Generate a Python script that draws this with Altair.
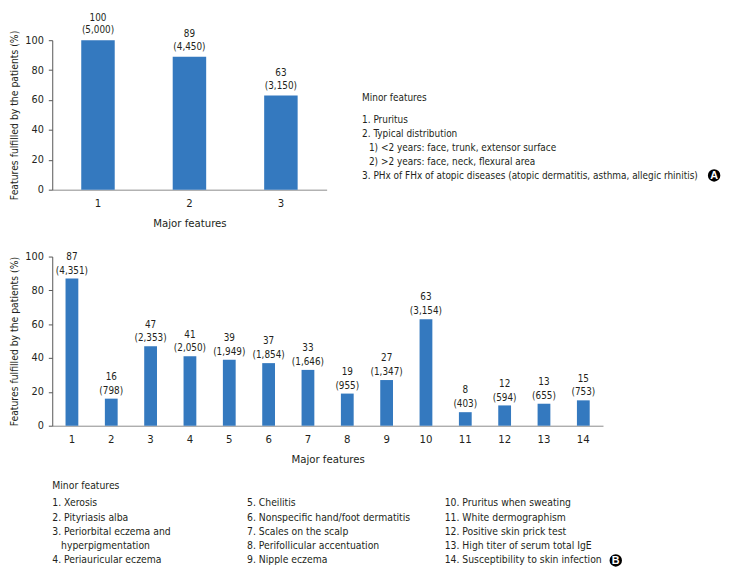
import altair as alt
import pandas as pd

# ---------------- data ----------------
major_ids = ["1", "2", "3"]
major_pct = [100, 89, 63]
major_n = ["5,000", "4,450", "3,150"]

minor_ids = [str(i) for i in range(1, 15)]
minor_pct = [87, 16, 47, 41, 39, 37, 33, 19, 27, 63, 8, 12, 13, 15]
minor_n = ["4,351", "798", "2,353", "2,050", "1,949", "1,854", "1,646",
           "955", "1,347", "3,154", "403", "594", "655", "753"]

panel_a_title = "Minor features"
panel_a_items = ["1. Pruritus", "2. Typical distribution"]
panel_a_sub = ["1) <2 years: face, trunk, extensor surface",
               "2) >2 years: face, neck, flexural area"]
panel_a_last = "3. PHx of FHx of atopic diseases (atopic dermatitis, asthma, allegic rhinitis)"

panel_b_title = "Minor features"
panel_b_col1 = ["1. Xerosis", "2. Pityriasis alba", "3. Periorbital eczema and",
                "hyperpigmentation", "4. Periauricular eczema"]
panel_b_col2 = ["5. Cheilitis", "6. Nonspecific hand/foot dermatitis",
                "7. Scales on the scalp", "8. Perifollicular accentuation",
                "9. Nipple eczema"]
panel_b_col3 = ["10. Pruritus when sweating", "11.  White dermographism",
                "12. Positive skin prick test", "13. High titer of serum total IgE",
                "14. Susceptibility to skin infection"]

# ---------------- style ----------------
FONT = "Liberation Sans Narrow, DejaVu Sans Condensed, sans-serif"
BLUE = "#3479BF"
INK = "#231F20"
YTITLE = "Features fulfilled by the patients (%)"


def bar_panel(ids, pct, counts, w, h, pad_inner, dy1, dy2):
    df = pd.DataFrame({
        "id": ids,
        "pct": pct,
        "lab1": [str(p) for p in pct],
        "lab2": ["(" + c + ")" for c in counts],
    })
    base = alt.Chart(df).encode(
        x=alt.X("id:N", sort=ids,
                scale=alt.Scale(paddingInner=pad_inner, paddingOuter=pad_inner / 2),
                axis=alt.Axis(title="Major features", labelAngle=0, ticks=False,
                              domainColor="#8a8a8a", labelPadding=8, titlePadding=9,
                              labelFontSize=11.5, titleFontSize=11.5,
                              labelColor=INK, titleColor=INK, titleFontWeight="normal")),
        y=alt.Y("pct:Q", scale=alt.Scale(domain=[0, 100], nice=False),
                axis=alt.Axis(title=YTITLE, values=[0, 20, 40, 60, 80, 100], grid=False,
                              domainColor="#555555", tickColor="#555555", tickSize=4,
                              labelPadding=5, titlePadding=5, labelFontSize=11,
                              titleFontSize=10.5, labelColor=INK, titleColor=INK,
                              titleFontWeight="normal")),
    )
    bars = base.mark_bar(color=BLUE)
    t1 = base.mark_text(dy=dy1, fontSize=10, color=INK, baseline="middle").encode(text="lab1:N")
    t2 = base.mark_text(dy=dy2, fontSize=10, color=INK, baseline="middle").encode(text="lab2:N")
    return alt.layer(bars, t1, t2).properties(width=w, height=h)


def text_block(texts, xs, ys, size):
    df = pd.DataFrame({"text": texts, "px": xs, "py": ys})
    return alt.Chart(df).mark_text(align="left", baseline="middle", fontSize=size,
                                   color=INK).encode(
        x=alt.X("px:Q", scale=None, axis=None),
        y=alt.Y("py:Q", scale=None, axis=None),
        text="text:N",
    )


def badge(letter, x, y):
    df = pd.DataFrame({"t": [letter]})
    c = alt.Chart(df).mark_circle(color="black", opacity=1, size=160).encode(
        x=alt.value(x), y=alt.value(y))
    t = alt.Chart(df).mark_text(color="white", fontSize=11, fontWeight="bold",
                                baseline="middle", align="center",
                                font="Liberation Sans, sans-serif").encode(
        x=alt.value(x), y=alt.value(y + 0.5), text="t:N")
    return c + t


# ---------------- top panel (A) ----------------
top_bars = bar_panel(major_ids, major_pct, major_n, 279, 152, 0.634, -22.5, -10)

a_texts = [panel_a_title] + panel_a_items + panel_a_sub + [panel_a_last]
a_x = [315, 315, 315, 322, 322, 315]
a_y = [59, 81, 95, 109.5, 123.5, 138]
top_text = text_block(a_texts, a_x, a_y, 10.1)

top = alt.layer(top_bars, top_text, badge("A", 673, 137.5)).resolve_scale(
    x="independent", y="independent")

# ---------------- bottom panel (B) ----------------
bot_bars = bar_panel(minor_ids, minor_pct, minor_n, 560, 172, 0.675, -22, -8)

row_y = [251, 265.5, 280, 294.5, 309]
b_texts = [panel_b_title] + panel_b_col1 + panel_b_col2 + panel_b_col3
b_x = [0] + [0, 0, 0, 9, 0] + [198] * 5 + [399] * 5
b_y = [233.5] + row_y + row_y + row_y
bot_text = text_block(b_texts, b_x, b_y, 10.5)

bottom = alt.layer(bot_bars, bot_text, badge("B", 573, 309)).resolve_scale(
    x="independent", y="independent")

chart = alt.vconcat(top, bottom, spacing=22).properties(
    padding={"left": 2, "top": 0, "right": 0, "bottom": 0}
).configure(font=FONT).configure_view(stroke=None)

chart.save("out.html", embed_options={"renderer": "svg", "actions": False})
